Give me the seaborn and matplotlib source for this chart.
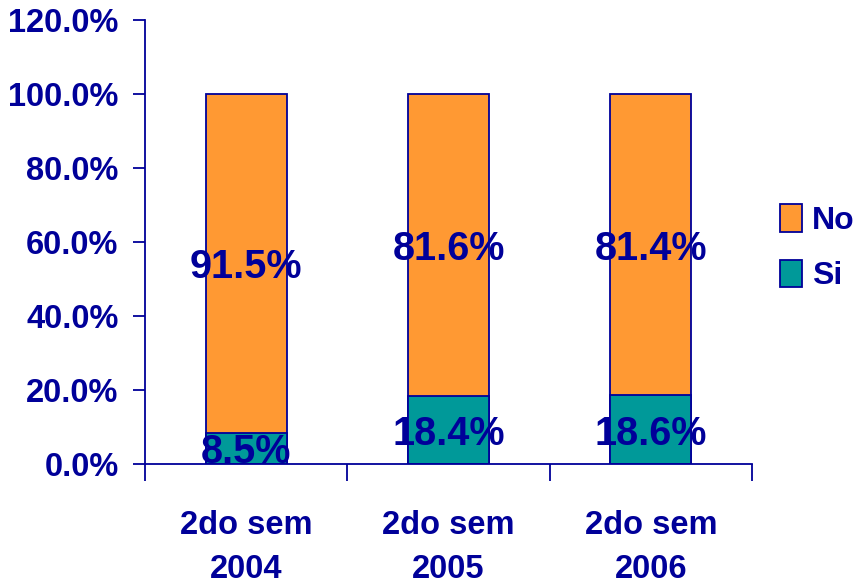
import matplotlib
matplotlib.use("Agg")
import matplotlib.pyplot as plt
from matplotlib.patches import Patch
import seaborn as sns
import pandas as pd

categories = ["2do sem\n2004", "2do sem\n2005", "2do sem\n2006"]
si_values = [8.5, 18.4, 18.6]
no_values = [91.5, 81.6, 81.4]
y_ticks = [0, 20, 40, 60, 80, 100, 120]

NAVY = "#000099"
ORANGE = "#FF9933"
TEAL = "#009999"

sns.set_theme(style="white")
plt.rcParams["font.family"] = ["Liberation Sans", "DejaVu Sans"]
plt.rcParams["font.weight"] = "bold"

df = pd.DataFrame({"cat": categories, "Si": si_values, "No": no_values})
df["total"] = df["Si"] + df["No"]

fig = plt.figure(figsize=(8.55, 5.87), dpi=100)
ax = fig.add_axes([0.1696, 0.2095, 0.71, 0.7564])

# Stacked bars: full height in orange, the "Si" share drawn over its base in teal
sns.barplot(data=df, x="cat", y="total", color=ORANGE, saturation=1, width=0.4,
            edgecolor=NAVY, linewidth=1.3, ax=ax)
sns.barplot(data=df, x="cat", y="Si", color=TEAL, saturation=1, width=0.4,
            edgecolor=NAVY, linewidth=1.3, ax=ax)

# Segment labels centred in each piece
for i, (s, n) in enumerate(zip(si_values, no_values)):
    ax.text(i, s / 2, f"{s:.1f}%", ha="center", va="center_baseline", fontsize=28.5,
            fontweight="bold", color=NAVY)
    ax.text(i, s + n / 2, f"{n:.1f}%", ha="center", va="center_baseline", fontsize=28.5,
            fontweight="bold", color=NAVY)

ax.set_xlim(-0.5, 2.5)
ax.set_ylim(0, 120)
ax.set_yticks(y_ticks)
ax.set_yticklabels([f"{v:.1f}%" for v in y_ticks])
ax.set_xlabel("")
ax.set_ylabel("")

ax.set_xticks([-0.5, 0.5, 1.5, 2.5], minor=True)
ax.tick_params(axis="x", which="major", length=0, pad=33, labelsize=23.5,
               labelcolor=NAVY)
ax.tick_params(axis="x", which="minor", length=12, width=1.3, color=NAVY,
               direction="out", bottom=True)
ax.tick_params(axis="y", which="major", length=9, width=1.3, color=NAVY,
               direction="out", left=True, pad=10, labelsize=23.5, labelcolor=NAVY)
for lbl in ax.get_xticklabels() + ax.get_yticklabels():
    lbl.set_fontweight("bold")
    lbl.set_linespacing(1.55)

for side in ["top", "right"]:
    ax.spines[side].set_visible(False)
for side in ["left", "bottom"]:
    ax.spines[side].set_color(NAVY)
    ax.spines[side].set_linewidth(1.3)

handles = [Patch(facecolor=ORANGE, edgecolor=NAVY, linewidth=1.3, label="No"),
           Patch(facecolor=TEAL, edgecolor=NAVY, linewidth=1.3, label="Si")]
leg = fig.legend(handles=handles, loc="center left", bbox_to_anchor=(0.912, 0.578),
                 frameon=False, fontsize=23, handlelength=0.7, handleheight=0.95,
                 handletextpad=0.3, labelspacing=0.75, borderaxespad=0, borderpad=0)
for t in leg.get_texts():
    t.set_color(NAVY)
    t.set_fontweight("bold")

fig.savefig("out.png", dpi=100)
